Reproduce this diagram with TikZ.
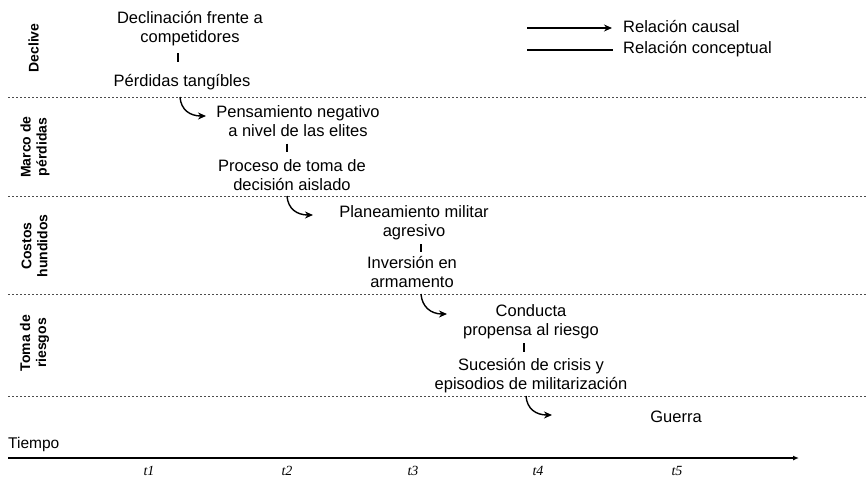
\documentclass[tikz,border=0pt]{standalone}
\usepackage{fontspec}
\setmainfont{Liberation Sans}
\newfontfamily\serifit{Liberation Serif}
\usetikzlibrary{arrows.meta}
\newcommand\myStrut{\rule{0pt}{14pt}}
\begin{document}
\begin{tikzpicture}[x=1pt,y=-1pt,
  txt/.style={align=center, inner sep=0pt, anchor=north, font=\fontsize{16.5}{19}\selectfont},
  rowlab/.style={rotate=90, align=center, inner sep=0pt, font=\fontsize{14}{16}\selectfont\bfseries},
  sepline/.style={draw=black!70, line width=0.9pt, dash pattern=on 2.4pt off 1.6pt},
  concept/.style={draw, line width=1.5pt},
  causal/.style={draw, line width=1.4pt, -{Stealth[length=8pt,width=7pt]}},
  tlab/.style={anchor=base, inner sep=0pt, font=\serifit\itshape\fontsize{14}{16}\selectfont},
]
\useasboundingbox (0,0) rectangle (867,480);

% separators
\draw[sepline] (8,97) -- (867,97);
\draw[sepline] (8,196) -- (867,196);
\draw[sepline] (8,294) -- (867,294);
\draw[sepline] (8,396) -- (867,396);

% row labels
\node[rowlab] (r1) at (33.5,48) {Declive};
\node[rowlab] (r2) at (35,147) {Marco de\\pérdidas};
\node[rowlab] (r3) at (34.5,246) {Costos\\hundidos};
\node[rowlab] (r4) at (34.5,343) {Toma de\\riesgos};

% concepts
\node[txt] (dec) at (190,9)   {\myStrut Declinación frente a\\competidores};
\node[txt] (per) at (182,72)  {\myStrut Pérdidas tangíbles};
\node[txt] (pen) at (298,103) {\myStrut Pensamiento negativo\\a nivel de las elites};
\node[txt] (pro) at (292,157) {\myStrut Proceso de toma de\\decisión aislado};
\node[txt] (pla) at (414,203) {\myStrut Planeamiento militar\\agresivo};
\node[txt] (inv) at (412,254) {\myStrut Inversión en\\armamento};
\node[txt] (con) at (531,302) {\myStrut Conducta\\propensa al riesgo};
\node[txt] (suc) at (531,356) {\myStrut Sucesión de crisis y\\episodios de militarización};
\node[txt] (gue) at (676,408) {\myStrut Guerra};

% conceptual relations
\coordinate (lx1) at (178,0);
\coordinate (lx2) at (287,0);
\coordinate (lx3) at (421,0);
\coordinate (lx4) at (524,0);
\draw[concept, shorten <=7.5pt, shorten >=10pt] (dec.south -| lx1) -- (per.north -| lx1);
\draw[concept, shorten <=7pt, shorten >=5pt] (pen.south -| lx2) -- (pro.north -| lx2);
\draw[concept, shorten <=4.5pt, shorten >=2pt] (pla.south -| lx3) -- (inv.north -| lx3);
\draw[concept, shorten <=4.5pt, shorten >=4pt] (con.south -| lx4) -- (suc.north -| lx4);

% causal relations
\coordinate (a1s) at (180,97);  \coordinate (a1e) at (206,116);
\coordinate (a2s) at (287,196); \coordinate (a2e) at (313,215);
\coordinate (a3s) at (421,294); \coordinate (a3e) at (447,314);
\coordinate (a4s) at (526,396); \coordinate (a4e) at (552,415);
\draw[causal] (a1s) .. controls +(1,13) and +(-16,0) .. (a1e);
\draw[causal] (a2s) .. controls +(1,13) and +(-16,0) .. (a2e);
\draw[causal] (a3s) .. controls +(1,13) and +(-16,0) .. (a3e);
\draw[causal] (a4s) .. controls +(1,13) and +(-16,0) .. (a4e);

% legend
\coordinate (lg1a) at (527,28); \coordinate (lg1b) at (612,28);
\coordinate (lg2a) at (527,50); \coordinate (lg2b) at (613,50);
\draw[causal] (lg1a) -- (lg1b);
\draw[concept] (lg2a) -- (lg2b);
\node[anchor=base west, inner sep=0pt, font=\fontsize{16.5}{19}\selectfont] (lgt1) at (623,32) {Relación causal};
\node[anchor=base west, inner sep=0pt, font=\fontsize{16.5}{19}\selectfont] (lgt2) at (623,53) {Relación conceptual};

% time axis
\coordinate (ax0) at (8,458);
\coordinate (ax1) at (799,458);
\draw[line width=1.3pt, -{Latex[length=6pt,width=5pt]}] (ax0) -- (ax1);
\node[anchor=base west, inner sep=0pt, font=\fontsize{15.5}{18}\selectfont] (tiempo) at (8,448) {Tiempo};
\node[tlab] (t1) at (149,475) {t1};
\node[tlab] (t2) at (287,475) {t2};
\node[tlab] (t3) at (413,475) {t3};
\node[tlab] (t4) at (538,475) {t4};
\node[tlab] (t5) at (677,475) {t5};
\end{tikzpicture}
\end{document}
